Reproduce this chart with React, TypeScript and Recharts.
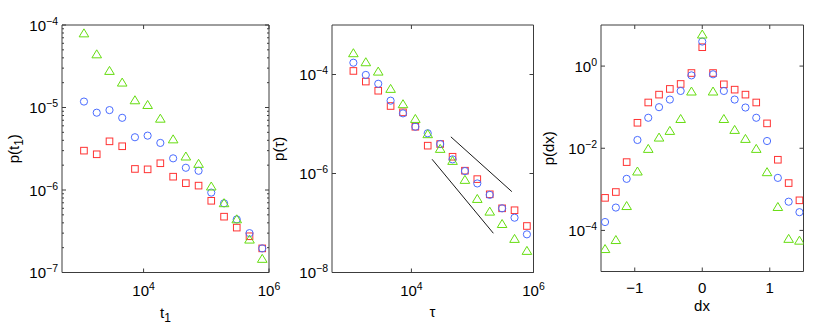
import React from 'react';
import { ScatterChart, Scatter, XAxis, YAxis } from 'recharts';

const W = 817;
const H = 333;
const FONT = '"Liberation Sans", Arial, Helvetica, sans-serif';
const FS = 15;
const SUP = 10.5;
const SUB = 12;
const AXIS_COLOR = '#3c3c3c';
const GREEN = '#66dd11';
const BLUE = '#4a6cff';
const RED = '#ff3333';

// ---------- Panel 1 : p(t1) ----------
const t1Bins = [1120, 1790, 2860, 4560, 7280, 11600, 18500, 29600, 47200, 75300, 120000, 192000, 306000, 489000, 780000];
const t1Triangle = [7.9e-5, 4.4e-5, 2.77e-5, 2.0e-5, 1.22e-5, 1.07e-5, 7.3e-6, 4.1e-6, 2.54e-6, 2.07e-6, 1.1e-6, 6.9e-7, 4.4e-7, 2.5e-7, 1.46e-7];
const t1Circle = [1.18e-5, 8.65e-6, 9.3e-6, 7.5e-6, 4.36e-6, 4.56e-6, 3.72e-6, 2.42e-6, 1.86e-6, 1.71e-6, 9.3e-7, 6.9e-7, 4.4e-7, 3.0e-7, 1.96e-7];
const t1Square = [3.0e-6, 2.71e-6, 3.89e-6, 3.39e-6, 1.8e-6, 1.78e-6, 2.11e-6, 1.45e-6, 1.21e-6, 1.13e-6, 7.4e-7, 4.75e-7, 3.5e-7, 2.75e-7, 1.96e-7];
const t1XTicks = [1e4, 1e6];
const t1YMajor = [1e-7, 1e-6, 1e-5, 1e-4];

// ---------- Panel 2 : p(tau) ----------
const tauBins = [1120, 1790, 2860, 4560, 7280, 11600, 18500, 29600, 47200, 75300, 120000, 192000, 306000, 489000, 780000];
const tauTriangle = [2.68e-4, 1.76e-4, 1.14e-4, 5.1e-5, 2.5e-5, 1.26e-5, 6.2e-6, 3.13e-6, 1.79e-6, 7.4e-7, 3.05e-7, 1.69e-7, 9.5e-8, 4.75e-8, 2.72e-8];
const tauCircle = [1.73e-4, 9.8e-5, 6.5e-5, 2.96e-5, 1.64e-5, 8.8e-6, 6.5e-6, 3.94e-6, 1.93e-6, 1.12e-6, 6.3e-7, 3.7e-7, 1.98e-7, 1.28e-7, 5.9e-8];
const tauSquare = [1.18e-4, 7.2e-5, 4.7e-5, 2.31e-5, 1.72e-5, 8.8e-6, 3.65e-6, 3.94e-6, 2.18e-6, 1.14e-6, 7.7e-7, 3.8e-7, 1.98e-7, 1.81e-7, 8.7e-8];
const guideUpperX = [44300, 442000];
const guideUpperY = [5.5e-6, 4.3e-7];
const guideLowerX = [21800, 220000];
const guideLowerY = [1.94e-6, 6.2e-8];
const tauXTicks = [1e4, 1e6];
const tauYTicks = [1e-8, 1e-6, 1e-4];

// ---------- Panel 3 : p(dx) ----------
const dxBins = [-1.44, -1.28, -1.12, -0.96, -0.8, -0.64, -0.48, -0.32, -0.16, 0, 0.16, 0.32, 0.48, 0.64, 0.8, 0.96, 1.12, 1.28, 1.44];
const dxSquare = [6.2e-4, 8.6e-4, 4.6e-3, 0.0417, 0.13, 0.202, 0.278, 0.367, 0.678, 2.88, 0.678, 0.36, 0.267, 0.202, 0.13, 0.0403, 5.25e-3, 1.42e-3, 5.4e-4];
const dxCircle = [1.6e-4, 3.6e-4, 1.8e-3, 0.0159, 0.0552, 0.1, 0.153, 0.248, 0.594, 3.95, 0.631, 0.248, 0.153, 0.098, 0.0552, 0.015, 1.9e-3, 5.0e-4, 2.78e-4];
const dxTriangle = [3.5e-5, 5.8e-5, 3.9e-4, 2.7e-3, 9.6e-3, 0.0181, 0.0263, 0.0513, 0.239, 5.83, 0.239, 0.0513, 0.0278, 0.0168, 9.6e-3, 2.6e-3, 3.7e-4, 6.2e-5, 5.6e-5];
const dxXTicks = [-1, 0, 1];
const dxYTicks = [1e-4, 1e-2, 1];

const rows = (xs: number[], ys: number[]) => xs.map((x, i) => ({ x, y: ys[i] }));
const close = (a: number, b: number) => Math.abs(a - b) <= Math.abs(b) * 1e-6 + 1e-12;
const withMinors = (majors: number[]) => {
  const out: number[] = [];
  majors.forEach((m, i) => {
    out.push(m);
    if (i < majors.length - 1) for (let k = 2; k <= 9; k++) out.push(m * k);
  });
  return out;
};

const Circle = (p: any) => <circle cx={p.cx} cy={p.cy} r={3.6} fill="none" stroke={BLUE} strokeWidth={1} />;
const Square = (p: any) => <rect x={p.cx - 3.3} y={p.cy - 3.3} width={6.6} height={6.6} fill="none" stroke={RED} strokeWidth={1} />;
const Triangle = (p: any) => (
  <polygon points={`${p.cx},${p.cy - 4.6} ${p.cx - 4.8},${p.cy + 3.4} ${p.cx + 4.8},${p.cy + 3.4}`} fill="none" stroke={GREEN} strokeWidth={1} />
);
const Nothing = () => <g />;

function expText(v: number) {
  const e = Math.round(Math.log10(v));
  return e < 0 ? '\u2212' + Math.abs(e) : String(e);
}
function linText(v: number) {
  return v < 0 ? '\u2212' + Math.abs(v) : String(v);
}

function makeTick(side: 'b' | 't' | 'l' | 'r', majors: number[], kind: 'log' | 'lin', labelled: boolean) {
  return (props: any) => {
    const { x, y, payload } = props;
    const v = payload?.value;
    const major = majors.some((m) => close(v, m));
    const len = major ? 4 : 2;
    let line: any = null;
    let label: any = null;
    if (side === 'b') line = <line x1={x} y1={y} x2={x} y2={y - len} stroke={AXIS_COLOR} />;
    if (side === 't') line = <line x1={x} y1={y} x2={x} y2={y + len} stroke={AXIS_COLOR} />;
    if (side === 'l') line = <line x1={x} y1={y} x2={x + len} y2={y} stroke={AXIS_COLOR} />;
    if (side === 'r') line = <line x1={x} y1={y} x2={x - len} y2={y} stroke={AXIS_COLOR} />;
    if (labelled && major) {
      if (side === 'b') {
        label =
          kind === 'log' ? (
            <text x={x} y={y + 23.5} textAnchor="middle" fontFamily={FONT} fontSize={FS} fill="#000">
              <tspan>10</tspan>
              <tspan dy={-6} fontSize={SUP}>{expText(v)}</tspan>
            </text>
          ) : (
            <text x={x} y={y + 21} textAnchor="middle" fontFamily={FONT} fontSize={FS} fill="#000">
              {linText(v)}
            </text>
          );
      }
      if (side === 'l') {
        label = (
          <text x={x - 4} y={y + 5.5} textAnchor="end" fontFamily={FONT} fontSize={FS} fill="#000">
            <tspan>10</tspan>
            <tspan dy={-6} fontSize={SUP}>{expText(v)}</tspan>
          </text>
        );
      }
    }
    return (
      <g>
        {line}
        {label}
      </g>
    );
  };
}

type Series = { data: { x: number; y: number }[]; shape: any; line?: boolean };

function Panel(props: {
  left: number;
  right: number;
  top: number;
  bottom: number;
  xScale: 'log' | 'linear';
  xDomain: [number, number];
  xTicks: number[];
  xMajors: number[];
  xKind: 'log' | 'lin';
  yDomain: [number, number];
  yTicks: number[];
  yMajors: number[];
  series: Series[];
}) {
  const { left, right, top, bottom } = props;
  const axisLine = { stroke: AXIS_COLOR, strokeWidth: 1 };
  return (
    <div style={{ position: 'absolute', left: 0, top: 0, width: W, height: H }}>
      <ScatterChart
        width={W}
        height={H}
        margin={{ top: top - 1, right: W - right - 1, bottom: H - bottom - 1, left: left - 1 }}
      >
        <XAxis
          xAxisId="b"
          dataKey="x"
          type="number"
          scale={props.xScale}
          domain={props.xDomain}
          allowDataOverflow
          ticks={props.xTicks}
          interval={0}
          height={1}
          tickSize={0}
          tickMargin={0}
          axisLine={axisLine}
          tickLine={false}
          tick={makeTick('b', props.xMajors, props.xKind, true)}
        />
        <XAxis
          xAxisId="t"
          orientation="top"
          dataKey="x"
          type="number"
          scale={props.xScale}
          domain={props.xDomain}
          allowDataOverflow
          ticks={props.xTicks}
          interval={0}
          height={1}
          tickSize={0}
          tickMargin={0}
          axisLine={axisLine}
          tickLine={false}
          tick={makeTick('t', props.xMajors, props.xKind, false)}
        />
        <YAxis
          yAxisId="l"
          dataKey="y"
          type="number"
          scale="log"
          domain={props.yDomain}
          allowDataOverflow
          ticks={props.yTicks}
          interval={0}
          width={1}
          tickSize={0}
          tickMargin={0}
          axisLine={axisLine}
          tickLine={false}
          tick={makeTick('l', props.yMajors, 'log', true)}
        />
        <YAxis
          yAxisId="r"
          orientation="right"
          dataKey="y"
          type="number"
          scale="log"
          domain={props.yDomain}
          allowDataOverflow
          ticks={props.yTicks}
          interval={0}
          width={1}
          tickSize={0}
          tickMargin={0}
          axisLine={axisLine}
          tickLine={false}
          tick={makeTick('r', props.yMajors, 'log', false)}
        />
        {props.series.map((s, i) => (
          <Scatter
            key={i}
            xAxisId="b"
            yAxisId="l"
            data={s.data}
            shape={s.shape}
            line={s.line ? { stroke: '#1a1a1a', strokeWidth: 1 } : false}
            isAnimationActive={false}
          />
        ))}
        <Scatter xAxisId="t" yAxisId="r" data={[]} shape={Nothing} isAnimationActive={false} />
      </ScatterChart>
    </div>
  );
}

export default function App() {
  const textProps = { fontFamily: FONT, fontSize: FS, fill: '#000' };
  return (
    <div style={{ position: 'absolute', left: 0, top: 0, width: W, height: H, background: '#fff' }}>
      <Panel
        left={62}
        right={269}
        top={25}
        bottom={272.5}
        xScale="log"
        xDomain={[500, 1e6]}
        xTicks={t1XTicks}
        xMajors={t1XTicks}
        xKind="log"
        yDomain={[1e-7, 1e-4]}
        yTicks={withMinors(t1YMajor)}
        yMajors={t1YMajor}
        series={[
          { data: rows(t1Bins, t1Square), shape: Square },
          { data: rows(t1Bins, t1Circle), shape: Circle },
          { data: rows(t1Bins, t1Triangle), shape: Triangle },
        ]}
      />
      <Panel
        left={332}
        right={533.5}
        top={25}
        bottom={272.5}
        xScale="log"
        xDomain={[500, 1e6]}
        xTicks={tauXTicks}
        xMajors={tauXTicks}
        xKind="log"
        yDomain={[1e-8, 1e-3]}
        yTicks={tauYTicks}
        yMajors={tauYTicks}
        series={[
          { data: rows(guideUpperX, guideUpperY), shape: Nothing, line: true },
          { data: rows(guideLowerX, guideLowerY), shape: Nothing, line: true },
          { data: rows(tauBins, tauSquare), shape: Square },
          { data: rows(tauBins, tauCircle), shape: Circle },
          { data: rows(tauBins, tauTriangle), shape: Triangle },
        ]}
      />
      <Panel
        left={601}
        right={803.5}
        top={25}
        bottom={271.5}
        xScale="linear"
        xDomain={[-1.5, 1.5]}
        xTicks={dxXTicks}
        xMajors={dxXTicks}
        xKind="lin"
        yDomain={[1e-5, 10]}
        yTicks={dxYTicks}
        yMajors={dxYTicks}
        series={[
          { data: rows(dxBins, dxSquare), shape: Square },
          { data: rows(dxBins, dxCircle), shape: Circle },
          { data: rows(dxBins, dxTriangle), shape: Triangle },
        ]}
      />
      <svg width={W} height={H} style={{ position: 'absolute', left: 0, top: 0, pointerEvents: 'none' }}>
        <text {...textProps} x={19} y={148.75} textAnchor="middle" transform="rotate(-90 19 148.75)">
          p(t<tspan dy={4} fontSize={SUB}>1</tspan>
          <tspan dy={-4}>)</tspan>
        </text>
        <text {...textProps} x={284} y={148.75} textAnchor="middle" transform="rotate(-90 284 148.75)">
          p(τ)
        </text>
        <text {...textProps} x={554} y={148.25} textAnchor="middle" transform="rotate(-90 554 148.25)">
          p(dx)
        </text>
        <text {...textProps} x={165.5} y={318} textAnchor="middle">
          t<tspan dy={4} fontSize={SUB}>1</tspan>
        </text>
        <text {...textProps} x={432.5} y={317} textAnchor="middle">
          τ
        </text>
        <text {...textProps} x={702} y={311} textAnchor="middle">
          dx
        </text>
      </svg>
    </div>
  );
}
